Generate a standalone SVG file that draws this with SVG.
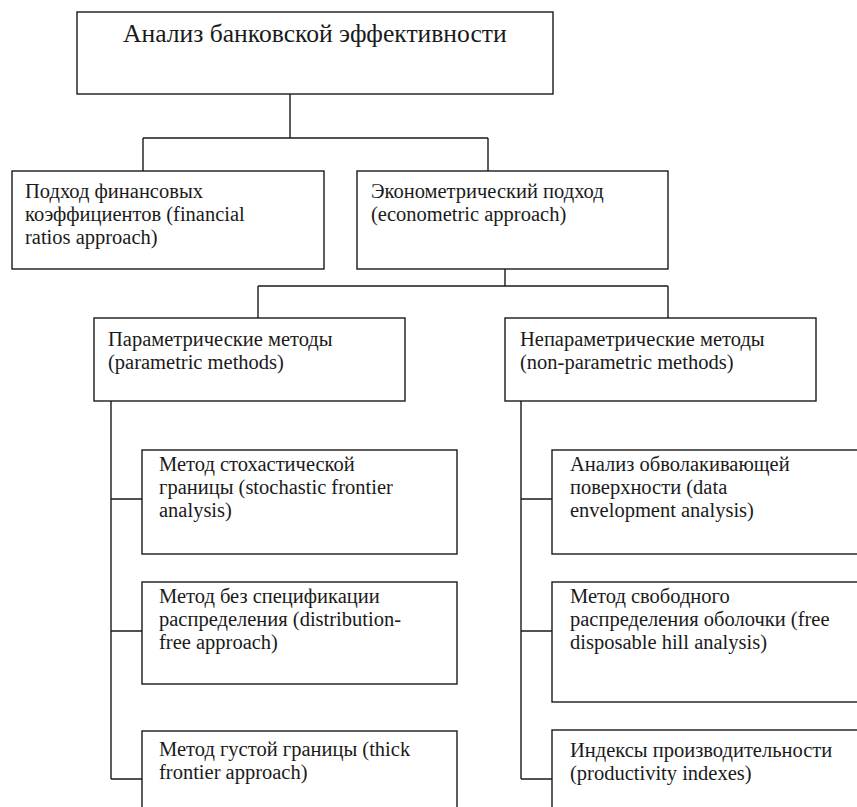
<svg xmlns="http://www.w3.org/2000/svg" width="857" height="807" viewBox="0 0 857 807" font-family="'Liberation Serif', 'DejaVu Serif', serif">
<style>
.box{fill:#fff;stroke:#1a1a1a;stroke-width:1.4}
.ln{fill:none;stroke:#1a1a1a;stroke-width:1.4}
.t{font-family:'Liberation Serif','DejaVu Serif',serif;font-size:20.5px;fill:#1a1a1a}
.title{font-size:25.6px}
</style>
<rect width="857" height="807" fill="#fff"/>
<g id="connectors">
<path class="ln" d="M290 94V138M143 138H488M143 138V171M488 138V171"/>
<path class="ln" d="M505 269V286M258 286H668M258 286V318M668 286V318"/>
<path class="ln" d="M111 401V779M111 499H142M111 631H142M111 779H142"/>
<path class="ln" d="M521 401V779M521 499H552M521 631H552M521 779H552"/>
</g>
<g id="root">
<rect class="box" x="77" y="12" width="476" height="82"/>
<text class="t title" x="123" y="42">Анализ банковской эффективности</text>
</g>
<g id="financial">
<rect class="box" x="12" y="171" width="312" height="98"/>
<text class="t" x="25" y="198">Подход финансовых</text>
<text class="t" x="25" y="221">коэффициентов (financial</text>
<text class="t" x="25" y="244">ratios approach)</text>
</g>
<g id="econometric">
<rect class="box" x="357" y="171" width="311" height="98"/>
<text class="t" x="371" y="198">Эконометрический подход</text>
<text class="t" x="371" y="221">(econometric approach)</text>
</g>
<g id="parametric">
<rect class="box" x="94" y="318" width="311" height="83"/>
<text class="t" x="108" y="346">Параметрические методы</text>
<text class="t" x="108" y="369">(parametric methods)</text>
</g>
<g id="nonparametric">
<rect class="box" x="505" y="318" width="311" height="83"/>
<text class="t" x="520" y="346">Непараметрические методы</text>
<text class="t" x="520" y="369">(non-parametric methods)</text>
</g>
<g id="sfa">
<rect class="box" x="142" y="450" width="315" height="104"/>
<text class="t" x="159" y="471">Метод стохастической</text>
<text class="t" x="159" y="494">границы (stochastic frontier</text>
<text class="t" x="159" y="517">analysis)</text>
</g>
<g id="dfa">
<rect class="box" x="142" y="582" width="315" height="102"/>
<text class="t" x="159" y="603">Метод без спецификации</text>
<text class="t" x="159" y="626">распределения (distribution-</text>
<text class="t" x="159" y="649">free approach)</text>
</g>
<g id="tfa">
<rect class="box" x="142" y="731" width="315" height="100"/>
<text class="t" x="159" y="756">Метод густой границы (thick</text>
<text class="t" x="159" y="779">frontier approach)</text>
</g>
<g id="dea">
<rect class="box" x="552" y="450" width="330" height="104"/>
<text class="t" x="570" y="471">Анализ обволакивающей</text>
<text class="t" x="570" y="494">поверхности (data</text>
<text class="t" x="570" y="517">envelopment analysis)</text>
</g>
<g id="fdh">
<rect class="box" x="552" y="582" width="330" height="120"/>
<text class="t" x="570" y="603">Метод свободного</text>
<text class="t" x="570" y="626">распределения оболочки (free</text>
<text class="t" x="570" y="649">disposable hill analysis)</text>
</g>
<g id="productivity">
<rect class="box" x="552" y="730" width="330" height="100"/>
<text class="t" x="570" y="757">Индексы производительности</text>
<text class="t" x="570" y="780">(productivity indexes)</text>
</g>
</svg>
